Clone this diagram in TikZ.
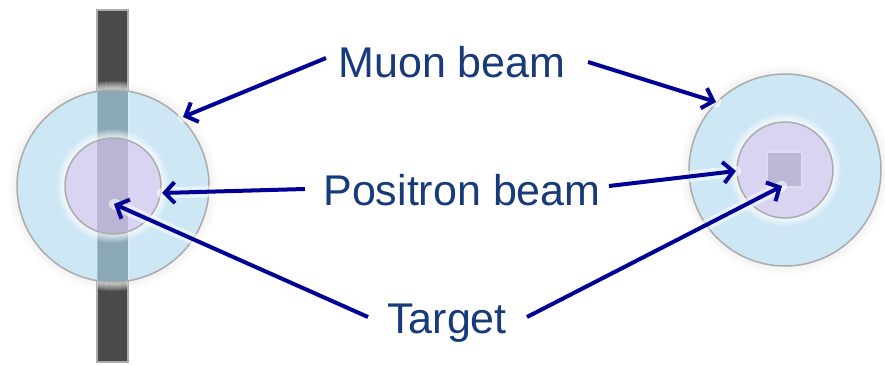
\documentclass[tikz,border=0pt]{standalone}
\usepackage{fontspec}
\setmainfont{Liberation Sans}
\usetikzlibrary{arrows.meta}
\definecolor{labelblue}{RGB}{22,58,122}
\definecolor{arrowblue}{RGB}{0,0,150}
\definecolor{ringblue}{RGB}{205,231,245}
\definecolor{corelilac}{RGB}{216,212,242}
\definecolor{rimgray}{RGB}{172,172,172}
\definecolor{bardark}{RGB}{74,74,74}
\definecolor{barblue}{RGB}{138,168,184}
\definecolor{barlilac}{RGB}{186,181,213}
\definecolor{spotlilac}{RGB}{189,183,216}
\definecolor{haze}{RGB}{214,214,214}
\tikzset{
  label/.style={text=labelblue, inner sep=0pt, anchor=base,
    font=\fontsize{43}{48}\selectfont},
  pointer/.style={draw=arrowblue, line width=4pt,
    -{Straight Barb[length=10pt,width=21pt]}},
  halo/.style={draw=white, line width=11pt, opacity=0.55, line cap=round},
  rim/.style={draw=rimgray, line width=1.5pt},
}
% soft glow: fading rings just outside a circle
\newcommand\softglow[4]{% center, radius, colour, strength
  \foreach \k in {1,...,9}{
    \draw[#3, line width=1.2pt, draw opacity={#4*(1-\k/10)}]
      (#1) circle ({#2+\k-0.5});
  }
}
\begin{document}
\begin{tikzpicture}[x=1pt,y=-1pt]
\useasboundingbox (0,0) rectangle (885,364);
\fill[white] (0,0) rectangle (885,364);

% ---------- left: target bar seen edge-on ----------
\coordinate (lc) at (113,186);
\fill[bardark] (97,10) rectangle (128,362);
\draw[rimgray, line width=1.2pt] (97,10) rectangle (128,362);
\softglow{lc}{96}{haze}{0.25}
\begin{scope}
  \clip (97,10) rectangle (128,362);
  \softglow{lc}{96}{haze}{0.95}
\end{scope}
\fill[ringblue] (lc) circle (96pt);
\begin{scope}
  \clip (lc) circle (96pt);
  \fill[barblue] (97,10) rectangle (128,362);
  \draw[white, opacity=0.25, line width=1pt] (97,10) -- (97,362) (128,10) -- (128,362);
\end{scope}
\softglow{lc}{48}{white}{0.75}
\fill[corelilac] (lc) circle (48pt);
\begin{scope}
  \clip (lc) circle (48pt);
  \fill[barlilac] (97,10) rectangle (128,362);
\end{scope}
\draw[rim] (lc) circle (96pt);
\draw[rim] (lc) circle (48pt);

% ---------- right: target seen face-on ----------
\coordinate (rc) at (785,170);
\softglow{rc}{96}{haze}{0.25}
\fill[ringblue] (rc) circle (96pt);
\softglow{rc}{48}{white}{0.75}
\fill[corelilac] (rc) circle (48pt);
\fill[white, opacity=0.18] (766,151) rectangle (803,188);
\fill[spotlilac] (768,153) rectangle (801,186);
\draw[rim] (rc) circle (96pt);
\draw[rim] (rc) circle (48pt);

% ---------- labels ----------
\node[label] (muon) at (452,77) {Muon beam};
\node[label] (positron) at (462,205) {Positron beam};
\node[label] (target) at (447,333) {Target};

% ---------- arrow ends ----------
\coordinate (muonL0) at (326,58);   \coordinate (muonL1) at (183,117);
\coordinate (muonR0) at (588,62);   \coordinate (muonR1) at (716,102);
\coordinate (posL0) at (305,189);   \coordinate (posL1) at (162,193);
\coordinate (posR0) at (609,186);   \coordinate (posR1) at (736,171);
\coordinate (tgtL0) at (368,317);   \coordinate (tgtL1) at (114,204);
\coordinate (tgtR0) at (527,317);   \coordinate (tgtR1) at (782,186);

\foreach \a/\b in {muonL0/muonL1, muonR0/muonR1, posL0/posL1,
                   posR0/posR1, tgtL0/tgtL1, tgtR0/tgtR1}{
  \draw[halo] (\a) -- (\b);
}
\foreach \a/\b in {muonL0/muonL1, muonR0/muonR1, posL0/posL1,
                   posR0/posR1, tgtL0/tgtL1, tgtR0/tgtR1}{
  \draw[pointer] (\a) -- (\b);
}
\end{tikzpicture}
\end{document}
